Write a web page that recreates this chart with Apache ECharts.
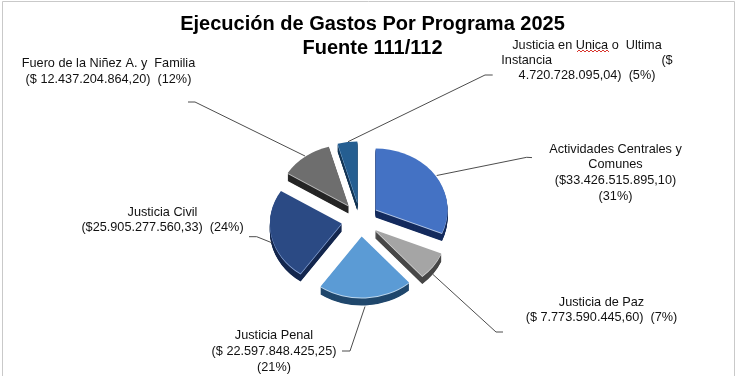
<!DOCTYPE html>
<html>
<head>
<meta charset="utf-8">
<style>html,body{margin:0;padding:0;background:#fff}#c{width:737px;height:376px}</style>
<script src="https://cdn.jsdelivr.net/npm/echarts@6/dist/echarts.min.js"></script>
</head>
<body>
<div id="c"></div>
<script>
var categories = ['Actividades Centrales y Comunes','Justicia de Paz','Justicia Penal','Justicia Civil','Fuero de la Niñez A. y Familia','Justicia en Unica o Ultima Instancia'];
var values = [33426515895.10, 7773590445.60, 22597848425.25, 25905277560.33, 12437204864.20, 4720728095.04];
var titleLines = ['Ejecución de Gastos Por Programa 2025','Fuente 111/112'];
var labelLines = [
  ['Actividades Centrales y','Comunes','($33.426.515.895,10)','(31%)'],
  ['Justicia de Paz','($ 7.773.590.445,60)  (7%)'],
  ['Justicia Penal','($ 22.597.848.425,25)','(21%)'],
  ['Justicia Civil','($25.905.277.560,33)  (24%)'],
  ['Fuero de la Niñez A. y  Familia','($ 12.437.204.864,20)  (12%)'],
  ['Justicia en Unica o  Ultima','Instancia                               ($','4.720.728.095,04)  (5%)']
];

// styling and layout
var topColors  = ['#4472C4','#A5A5A5','#5B9BD5','#2B4A84','#6E6E6E','#255E91'];
var sideColors = ['#152C5E','#474747','#21486D','#14274E','#262626','#153757'];
var bevelColors= ['#B4C7E7','#DADADA','#BDD7EE','#8FAADC','#BFBFBF','#9DC3E6'];
var apexes = [[375.7,209.5],[375,230],[361.7,236.5],[341.7,223.5],[348.5,205.5],[357.3,202.5]];
var labelCenters = [[615.5,149],[601.5,302],[274,335],[162.5,212],[108.5,63],[587,45]];
var labelSteps = [15.8,15,16,15.6,16,15];
var leaders = [
  [[436.7,175.5],[526.7,157.3],[532,157.6]],
  [[433,274.5],[496,332],[503,332]],
  [[365,306.5],[350,351],[342,351]],
  [[249,236.7],[256.7,236.7],[271.7,242.7]],
  [[188,102],[195,102],[305,156]],
  [[348,141.7],[485,75],[492.7,75]]
];
var RX = 71.8, RY = 61, DEPTH = 8;
var total = values.reduce(function(a,b){return a+b;},0);

function renderItem(params, api) {
  var i = params.dataIndex, before = 0;
  for (var k = 0; k < i; k++) before += values[k];
  var a0 = before / total * 2 * Math.PI - Math.PI/2;
  var a1 = (before + api.value(0)) / total * 2 * Math.PI - Math.PI/2;
  var ax = apexes[i][0], ay = apexes[i][1];
  function sector(dy, color) {
    return { type:'sector', x:ax, y:ay+dy, scaleY:RY/RX, silent:true,
      shape:{cx:0,cy:0,r0:0,r:RX,startAngle:a0,endAngle:a1,clockwise:true},
      style:{fill:color} };
  }
  var kids = [];
  for (var d = DEPTH; d >= 1; d -= 0.5) kids.push(sector(d, sideColors[i]));
  kids.push(sector(1, bevelColors[i]));
  kids.push(sector(0, topColors[i]));
  kids.push({ type:'polyline', silent:true, shape:{points:leaders[i]},
    style:{stroke:'#4d4d4d',lineWidth:1,fill:null} });
  labelLines[i].forEach(function(t,n){
    kids.push({ type:'text', silent:true, x:labelCenters[i][0], y:labelCenters[i][1]+n*labelSteps[i],
      style:{text:t,fill:'#111',font:'12.7px "Liberation Sans", Arial, sans-serif',align:'center',verticalAlign:'middle'} });
  });
  return { type:'group', children:kids };
}

// wavy spell-check underline beneath "Unica"
var wave = [];
for (var x = 577, n = 0; x <= 610; x += 2, n++) wave.push([x, n % 2 ? 50 : 52]);

var chart = echarts.init(document.getElementById('c'), null, {renderer:'canvas'});
chart.setOption({
  animation:false,
  backgroundColor:'#fff',
  title:{
    text:titleLines.join('\n'), left:367.5, top:7, textAlign:'center',
    textStyle:{fontFamily:'"Liberation Sans", Arial, sans-serif',fontWeight:'bold',fontSize:20,lineHeight:24,color:'#000'}
  },
  graphic:[
    {type:'rect',z:-1,silent:true,shape:{x:2.5,y:1.5,width:732,height:390},style:{fill:'#fff',stroke:'#c9c9c9',lineWidth:1}},
    {type:'polyline',z:10,silent:true,shape:{points:wave},style:{stroke:'#d8372f',lineWidth:1,fill:null}}
  ],
  series:[{
    type:'custom', coordinateSystem:'none', clip:false,
    renderItem:renderItem,
    data:values.map(function(v,i){return {name:categories[i],value:[v]};})
  }]
});
</script>
</body>
</html>
